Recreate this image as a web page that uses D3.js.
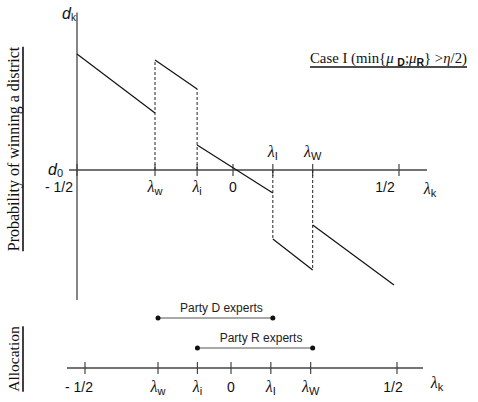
<!DOCTYPE html>
<html><head><meta charset="utf-8">
<script src="https://cdn.jsdelivr.net/npm/d3@7"></script>
<style>
html,body{margin:0;padding:0;background:#fff;}
svg{display:block;}
.sans{font-family:"Liberation Sans",Arial,sans-serif;}
.serif{font-family:"Liberation Serif","Times New Roman",serif;}
</style>
</head><body>
<svg id="chart" width="478" height="402"></svg>
<script>
// ---- data ----
const tickNames   = ["-1/2", "λw", "λi", "0", "λI", "λW", "1/2"];
const tickValues  = [-0.5, -0.25, -0.115, 0, 0.12, 0.24, 0.5];
// piecewise-linear probability d_k over λ_k
const segStart = [-0.5, -0.25, -0.115, 0.12, 0.24];
const segEnd   = [-0.25, -0.115, 0.12, 0.24, 0.485];
const dStart   = [0.773, 0.733, 0.167, -0.46, -0.367];
const dEnd     = [0.38, 0.54, -0.153, -0.667, -0.767];
// discontinuities drawn dashed (from d0 to the jump's far end)
const jumpAt   = [-0.25, -0.115, 0.12, 0.24];
const jumpTo   = [0.733, 0.54, -0.46, -0.667];
// allocation intervals
const parties    = ["Party D experts", "Party R experts"];
const allocFrom  = [-0.25, -0.115];
const allocTo    = [0.12, 0.24];

const svg = d3.select("#chart");
const axisColor = "#444";

// ---- scales ----
const xTop = d3.scaleLinear().domain([-0.5, 0, 0.5]).range([77, 233, 399]);
const xBot = d3.scaleLinear().domain([-0.5, 0, 0.5]).range([85, 231, 397]);
const y = d3.scaleLinear().domain([0, 1]).range([170, 20]);
const yAlloc = d3.scalePoint().domain(parties).range([318, 348]);

// ---- top panel axes ----
svg.append("line").attr("x1", xTop(-0.5)).attr("x2", xTop(-0.5))
  .attr("y1", y(1.05)).attr("y2", y(-0.867))
  .attr("stroke", axisColor).attr("stroke-width", 1.3);
svg.append("line").attr("x1", xTop(-0.5) - 8).attr("x2", 427)
  .attr("y1", y(0)).attr("y2", y(0))
  .attr("stroke", axisColor).attr("stroke-width", 1.3);

// ticks top
svg.selectAll("line.tt").data(tickValues).join("line")
  .attr("x1", d => xTop(d)).attr("x2", d => xTop(d))
  .attr("y1", y(0) - 6).attr("y2", y(0) + 6)
  .attr("stroke", axisColor).attr("stroke-width", 1.2);

// dashed jumps
svg.selectAll("line.jump").data(jumpAt).join("line")
  .attr("x1", d => xTop(d)).attr("x2", d => xTop(d))
  .attr("y1", y(0)).attr("y2", (d, i) => y(jumpTo[i]))
  .attr("stroke", "#222").attr("stroke-width", 1).attr("stroke-dasharray", "3,2");

// segments
svg.selectAll("line.seg").data(segStart).join("line")
  .attr("x1", d => xTop(d)).attr("x2", (d, i) => xTop(segEnd[i]))
  .attr("y1", (d, i) => y(dStart[i])).attr("y2", (d, i) => y(dEnd[i]))
  .attr("stroke", "#111").attr("stroke-width", 1.2);

// tick label helper
function lambdaLabel(g, name, x, yy) {
  const t = g.append("text").attr("x", x).attr("y", yy).attr("text-anchor", "middle");
  if (name.startsWith("λ")) {
    t.append("tspan").attr("class", "serif").attr("font-size", 16).attr("font-style","italic").text("λ");
    t.append("tspan").attr("class", "sans").attr("font-size", 11).attr("dy", 3).text(name.slice(1));
  } else {
    t.attr("class", "sans").attr("font-size", 14).text(name === "-1/2" ? "- 1/2" : name);
  }
  return t;
}

const gTop = svg.append("g").attr("fill", "#111");
tickNames.forEach((n, i) => {
  const v = tickValues[i];
  let xx = xTop(v), yy = 192;
  if (n === "λI" || n === "λW") yy = 157;
  if (n === "-1/2") xx = xTop(v) - 18;
  if (n === "1/2") xx = xTop(v) - 14;
  lambdaLabel(gTop, n, xx, yy);
});
// λk top
lambdaLabel(gTop, "λk", 430, 194);

// d_k, d_0
const dk = gTop.append("text").attr("x", 62).attr("y", 19).attr("class", "sans");
dk.append("tspan").attr("font-size", 16).attr("font-style", "italic").text("d");
dk.append("tspan").attr("font-size", 10).attr("dy", 2).text("k");
const d0 = gTop.append("text").attr("x", 48).attr("y", 175).attr("class", "sans");
d0.append("tspan").attr("font-size", 16).attr("font-style", "italic").text("d");
d0.append("tspan").attr("font-size", 11).attr("dy", 2).text("0");

// title
const title = svg.append("text").attr("x", 310).attr("y", 63).attr("class", "serif")
  .attr("font-size", 14.8).attr("fill", "#111");
title.append("tspan").text("Case I (min{");
title.append("tspan").attr("font-style", "italic").text("μ ");
title.append("tspan").attr("class", "sans").attr("font-weight", "bold").attr("font-size", 10.5).attr("dy", 3).text("D");
title.append("tspan").attr("dy", -3).text(";");
title.append("tspan").attr("font-style", "italic").text("μ");
title.append("tspan").attr("class", "sans").attr("font-weight", "bold").attr("font-size", 10.5).attr("dy", 3).text("R");
title.append("tspan").attr("dy", -3).text("} >");
title.append("tspan").attr("font-style", "italic").text("η");
title.append("tspan").text("/2)");
const tb = title.node().getBBox();
svg.append("line").attr("x1", tb.x).attr("x2", tb.x + tb.width)
  .attr("y1", 67).attr("y2", 67).attr("stroke", "#111").attr("stroke-width", 1.6);

// rotated side labels
function sideLabel(text, cy, fs) {
  const t = svg.append("text").attr("class", "serif").attr("font-size", fs).attr("fill", "#111")
    .attr("text-anchor", "middle")
    .attr("transform", `translate(19,${cy}) rotate(-90)`).text(text);
  const w = t.node().getComputedTextLength();
  svg.append("line").attr("x1", 23).attr("x2", 23)
    .attr("y1", cy - w / 2).attr("y2", cy + w / 2)
    .attr("stroke", "#111").attr("stroke-width", 1.6);
}
sideLabel("Probability of winning a district", 149, 16);
sideLabel("Allocation", 359, 15.5);

// ---- bottom panel ----
svg.append("line").attr("x1", 67).attr("x2", 423)
  .attr("y1", 368).attr("y2", 368).attr("stroke", axisColor).attr("stroke-width", 1.3);
svg.selectAll("line.tb").data(tickValues).join("line")
  .attr("x1", d => xBot(d)).attr("x2", d => xBot(d))
  .attr("y1", 362).attr("y2", 374)
  .attr("stroke", axisColor).attr("stroke-width", 1.2);
const gBot = svg.append("g").attr("fill", "#111");
tickNames.forEach((n, i) => {
  let xx = xBot(tickValues[i]);
  if (n === "1/2") xx -= 4;
  if (n === "-1/2") xx -= 6;
  lambdaLabel(gBot, n, xx, 392);
});
lambdaLabel(gBot, "λk", 437, 388);

// allocation intervals
parties.forEach((p, i) => {
  const yy = yAlloc(p);
  const x1 = xBot(allocFrom[i]), x2 = xTop(allocTo[i]);
  svg.append("line").attr("x1", x1).attr("x2", x2).attr("y1", yy).attr("y2", yy)
    .attr("stroke", "#555").attr("stroke-width", 1.2);
  svg.append("circle").attr("cx", x1).attr("cy", yy).attr("r", 2.5).attr("fill", "#111");
  svg.append("circle").attr("cx", x2).attr("cy", yy).attr("r", 2.5).attr("fill", "#111");
  svg.append("text").attr("class", "sans").attr("font-size", 12).attr("fill", "#222")
    .attr("x", (x1 + x2) / 2 + 6).attr("y", yy - 6).attr("text-anchor", "middle").text(p);
});
</script>
</body></html>
